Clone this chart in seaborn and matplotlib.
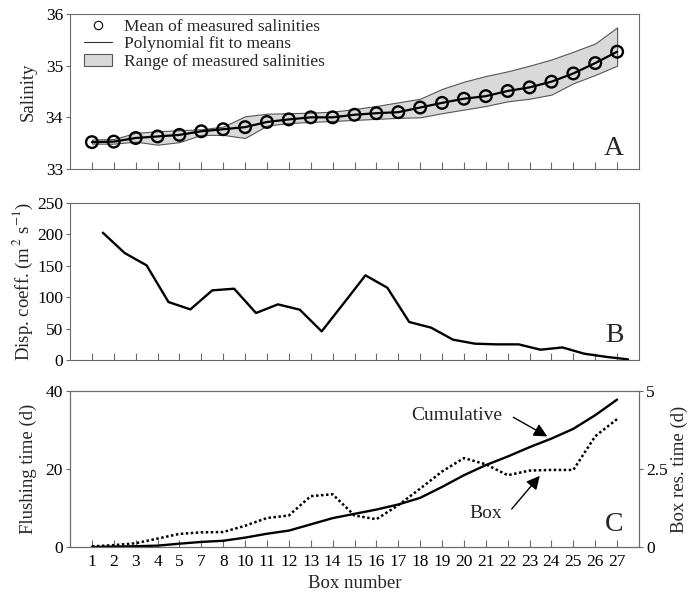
import numpy as np
import pandas as pd
import matplotlib
matplotlib.use("Agg")
import matplotlib.pyplot as plt
from matplotlib.lines import Line2D
from matplotlib.patches import Patch
import seaborn as sns

# Box labels along the estuary (boxes 6 and 9 are not sampled)
box_labels = ["1", "2", "3", "4", "5", "7", "8", "10", "11", "12", "13", "14",
              "15", "16", "17", "18", "19", "20", "21", "22", "23", "24",
              "25", "26", "27"]

# Panel A: salinity per box
sal_mean = [33.52, 33.53, 33.60, 33.63, 33.66, 33.73, 33.77, 33.81, 33.91,
            33.96, 34.00, 34.00, 34.05, 34.08, 34.10, 34.19, 34.28, 34.36,
            34.41, 34.51, 34.58, 34.69, 34.85, 35.05, 35.27]
sal_max = [33.57, 33.58, 33.70, 33.73, 33.75, 33.77, 33.82, 34.02, 34.07,
           34.08, 34.09, 34.11, 34.16, 34.22, 34.29, 34.36, 34.55, 34.69,
           34.80, 34.89, 35.00, 35.12, 35.27, 35.43, 35.74]
sal_min = [33.49, 33.49, 33.53, 33.47, 33.52, 33.66, 33.66, 33.60, 33.84,
           33.89, 33.91, 33.93, 33.95, 33.97, 33.99, 34.00, 34.08, 34.15,
           34.22, 34.31, 34.36, 34.44, 34.66, 34.82, 35.00]

# Panel B: dispersion coefficient at box interfaces (m2 s-1)
disp_coeff = [202.7, 170.3, 150.7, 92.3, 80.6, 110.9, 113.5, 74.8, 88.6,
              80.1, 45.6, 90.0, 134.8, 115.1, 60.5, 51.5, 32.4, 26.0, 24.9,
              24.9, 16.4, 20.0, 10.0, 5.0, 1.0]

# Panel C: cumulative flushing time (d) and box residence time (d)
flush_cum = [0.0, 0.1, 0.2, 0.35, 0.85, 1.3, 1.6, 2.4, 3.4, 4.2, 5.8, 7.4,
             8.5, 9.6, 10.9, 12.6, 15.4, 18.4, 21.0, 23.2, 25.6, 27.8, 30.3,
             33.8, 37.8]
box_res = [0.02, 0.06, 0.12, 0.27, 0.42, 0.47, 0.48, 0.68, 0.93, 1.01, 1.63,
           1.69, 1.01, 0.89, 1.34, 1.87, 2.42, 2.85, 2.65, 2.30, 2.45, 2.47,
           2.47, 3.55, 4.10]

pos = np.arange(len(box_labels))
iface = pos + 0.5

sns.set_theme(style="ticks")
plt.rcParams["font.family"] = ["Liberation Serif", "DejaVu Serif"]
plt.rcParams["mathtext.fontset"] = "stix"
plt.rcParams["axes.edgecolor"] = "#6a6a6a"
plt.rcParams["axes.linewidth"] = 0.8
plt.rcParams["xtick.color"] = "#6a6a6a"
plt.rcParams["ytick.color"] = "#6a6a6a"
plt.rcParams["xtick.labelcolor"] = "black"
plt.rcParams["ytick.labelcolor"] = "black"

TICK = 12.5
LAB = 13.5

fig = plt.figure(figsize=(6.91, 5.96), dpi=100)
W, H = 691, 596
left, right = 70, 639


def add_axes(top, bottom):
    return fig.add_axes([left / W, 1 - bottom / H, (right - left) / W, (bottom - top) / H])


axA = add_axes(14, 169)
axB = add_axes(203, 360)
axC = add_axes(391, 547)

for ax in (axA, axB, axC):
    ax.set_xlim(-1, 25)
    ax.set_xticks(pos)
    ax.tick_params(axis="x", direction="in", length=5, width=0.8, labelsize=TICK, pad=5)
    ax.tick_params(axis="y", direction="out", length=3, width=0.8, labelsize=TICK, pad=2)
    for s in ax.spines.values():
        s.set_visible(True)

axA.set_xticklabels([])
axB.set_xticklabels([])
axC.set_xticklabels(box_labels)

# ---- Panel A ----
axA.fill_between(pos, sal_min, sal_max, facecolor="#d9d9d9", edgecolor="#555555", lw=0.8)
sns.lineplot(x=pos, y=sal_mean, ax=axA, color="black", lw=1.6)
sns.scatterplot(x=pos, y=sal_mean, ax=axA, s=70, facecolors="none",
                edgecolor="black", linewidth=1.7, zorder=4)
axA.set_ylim(33, 36)
axA.set_yticks([33, 34, 35, 36])
axA.set_ylabel("Salinity", fontsize=LAB)
axA.yaxis.set_label_coords(-0.058, 0.5)
handles = [
    Line2D([], [], marker="o", ls="none", mfc="none", mec="black", ms=6, mew=0.8),
    Line2D([], [], color="#333333", lw=0.8),
    Patch(facecolor="#d9d9d9", edgecolor="#555555", lw=0.8),
]
axA.legend(handles, ["Mean of measured salinities", "Polynomial fit to means",
                     "Range of measured salinities"],
           loc="upper left", bbox_to_anchor=(0.025, 0.97), frameon=False,
           fontsize=TICK, handlelength=1.6, handletextpad=0.7, labelspacing=0.08,
           borderpad=0, borderaxespad=0)
axA.text(0.956, 0.13, "A", transform=axA.transAxes, fontsize=20, ha="center", va="center")

# ---- Panel B ----
sns.lineplot(x=iface, y=disp_coeff, ax=axB, color="black", lw=1.7)
axB.set_ylim(0, 250)
axB.set_yticks([0, 50, 100, 150, 200, 250])
axB.set_ylabel("Disp. coeff. (m$^{\\,2}$ s$^{-1}$)", fontsize=LAB)
axB.yaxis.set_label_coords(-0.062, 0.5)
axB.text(0.956, 0.153, "B", transform=axB.transAxes, fontsize=20, ha="center", va="center")

# ---- Panel C ----
sns.lineplot(x=pos, y=flush_cum, ax=axC, color="black", lw=1.7)
axC.set_ylim(0, 40)
axC.set_yticks([0, 20, 40])
axC.set_ylabel("Flushing time (d)", fontsize=LAB)
axC.yaxis.set_label_coords(-0.058, 0.5)
axC.set_xlabel("Box number", fontsize=LAB, labelpad=4)

axR = axC.twinx()
sns.lineplot(x=pos, y=box_res, ax=axR, color="black", lw=1.8, linestyle=(0, (1, 1)))
axR.set_ylim(0, 5)
axR.set_yticks([0, 2.5, 5])
axR.set_yticklabels(["0", "2.5", "5"])
axR.tick_params(axis="y", direction="out", length=3, width=0.8, labelsize=TICK, pad=2)
axR.set_ylabel("Box res. time (d)", fontsize=LAB)
axR.yaxis.set_label_coords(1.056, 0.5)
axR.set_xlim(-1, 25)

axC.text(14.6, 33.8, "Cumulative", fontsize=14, ha="left", va="center")
axC.annotate("", xy=(20.92, 28.0), xytext=(19.15, 33.6),
             arrowprops=dict(arrowstyle="-|>", color="black", lw=1.0, mutation_scale=20))
axC.text(17.27, 8.7, "Box", fontsize=14, ha="left", va="center")
axC.annotate("", xy=(20.55, 18.8), xytext=(19.1, 9.2),
             arrowprops=dict(arrowstyle="-|>", color="black", lw=1.0, mutation_scale=20))
axC.text(0.956, 0.147, "C", transform=axC.transAxes, fontsize=20, ha="center", va="center")

fig.savefig("out.png", dpi=100)
